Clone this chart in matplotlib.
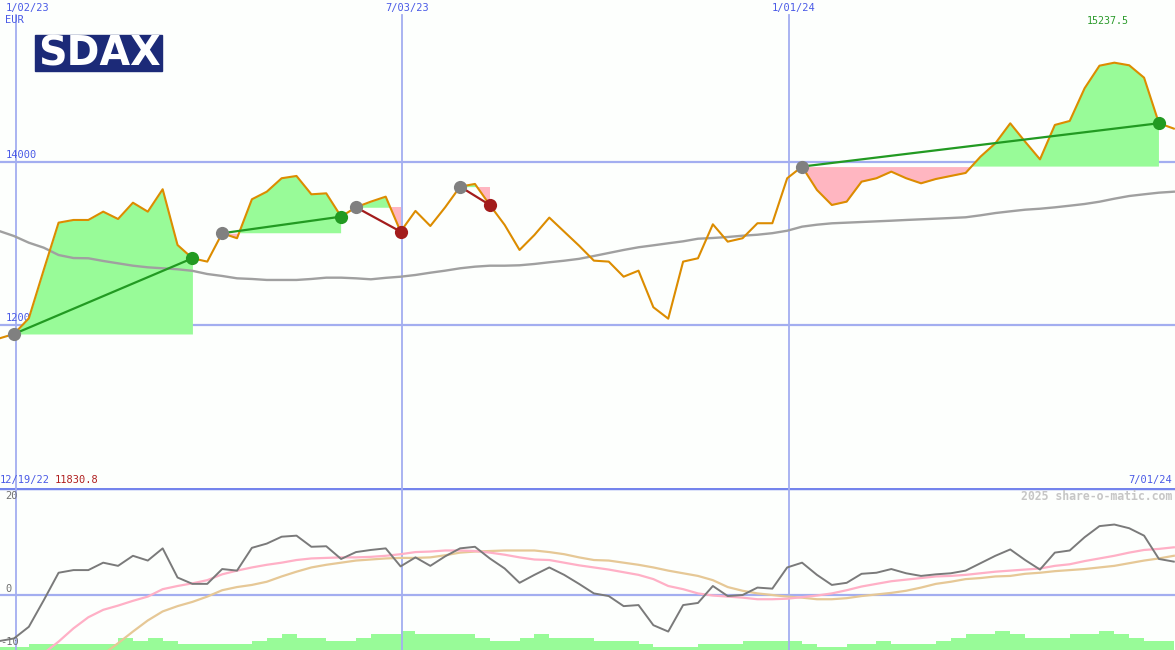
import matplotlib
matplotlib.use("Agg")
import matplotlib.pyplot as plt
from matplotlib.patches import Rectangle
import numpy as np

W, H = 1175, 650

# weekly closes, index -1 .. 78 (week 0 = first week of 2023)
weeks = list(range(-1, 79))
price = [11831, 11886, 12079, 12672, 13252, 13285, 13285, 13387, 13297, 13497,
         13387, 13662, 12978, 12815, 12774, 13122, 13061, 13539, 13632, 13797,
         13825, 13600, 13612, 13326, 13441, 13510, 13571, 13142, 13396, 13211,
         13441, 13694, 13727, 13469, 13224, 12917, 13101, 13314, 13142, 12970,
         12786, 12774, 12589, 12663, 12214, 12074, 12774, 12815, 13232, 13019,
         13061, 13245, 13245, 13797, 13940, 13653, 13469, 13510, 13755, 13797,
         13878, 13797, 13735, 13788, 13825, 13862, 14062, 14226, 14471, 14246,
         14029, 14451, 14500, 14901, 15178, 15215, 15183, 15031, 14472, 14406]
ma_long = [13150, 13088, 13006, 12945, 12855, 12818, 12815, 12782, 12753, 12724,
           12704, 12692, 12680, 12661, 12622, 12598, 12569, 12561, 12549, 12549,
           12549, 12561, 12577, 12577, 12569, 12557, 12575, 12589, 12610, 12638,
           12663, 12692, 12712, 12724, 12724, 12729, 12745, 12766, 12785, 12808,
           12843, 12880, 12917, 12950, 12974, 12999, 13023, 13055, 13064, 13076,
           13092, 13104, 13123, 13153, 13203, 13227, 13244, 13252, 13260, 13268,
           13276, 13285, 13293, 13301, 13309, 13318, 13342, 13370, 13391, 13411,
           13423, 13440, 13460, 13481, 13509, 13546, 13579, 13600, 13620, 13632]

# lower panel: momentum and its two averages
momentum = [-8.7, -8.2, -6.0, -1.0, 4.2, 4.7, 4.7, 6.1, 5.5, 7.4,
            6.5, 8.8, 3.3, 2.1, 2.1, 4.9, 4.6, 8.9, 9.7, 11.0,
            11.2, 9.1, 9.2, 6.8, 8.1, 8.5, 8.8, 5.4, 7.1, 5.5,
            7.3, 8.8, 9.1, 6.9, 5.0, 2.3, 3.8, 5.2, 3.8, 2.1,
            0.3, -0.2, -2.1, -1.9, -5.7, -6.9, -1.9, -1.5, 1.7, -0.2,
            0.0, 1.4, 1.2, 5.2, 6.1, 3.8, 1.9, 2.3, 4.0, 4.2,
            4.9, 4.1, 3.6, 3.9, 4.1, 4.6, 6.0, 7.4, 8.6, 6.6,
            4.8, 8.0, 8.4, 10.9, 13.0, 13.3, 12.6, 11.2, 6.8, 6.3]
mom_fast = [None, None, None, -11.0, -8.8, -6.3, -4.2, -2.8, -2.0, -1.1,
            -0.3, 1.1, 1.7, 2.2, 2.8, 3.9, 4.6, 5.2, 5.7, 6.1,
            6.6, 6.9, 7.0, 7.1, 7.1, 7.2, 7.4, 7.7, 8.1, 8.2,
            8.4, 8.4, 8.3, 8.0, 7.6, 7.1, 6.7, 6.6, 6.1, 5.6,
            5.2, 4.8, 4.3, 3.8, 3.0, 1.7, 1.1, 0.3, -0.1, -0.3,
            -0.5, -0.8, -0.8, -0.7, -0.4, -0.1, 0.3, 0.9, 1.6, 2.1,
            2.6, 2.9, 3.2, 3.5, 3.6, 3.8, 4.1, 4.4, 4.6, 4.8,
            5.0, 5.5, 5.8, 6.4, 6.9, 7.4, 8.0, 8.5, 8.7, 9.0]
mom_slow = [None, None, None, None, None, None, None, -11.2, -9.1, -6.9,
            -4.8, -3.1, -2.1, -1.3, -0.3, 0.9, 1.5, 1.9, 2.5, 3.5,
            4.4, 5.2, 5.7, 6.1, 6.5, 6.7, 6.9, 7.0, 7.0, 7.1,
            7.5, 8.0, 8.2, 8.3, 8.4, 8.4, 8.4, 8.1, 7.7, 7.1,
            6.6, 6.5, 6.1, 5.7, 5.2, 4.6, 4.1, 3.6, 2.8, 1.5,
            0.8, 0.3, 0.0, -0.3, -0.5, -0.8, -0.8, -0.6, -0.2, 0.1,
            0.4, 0.8, 1.4, 2.1, 2.5, 3.0, 3.2, 3.5, 3.6, 4.0,
            4.2, 4.5, 4.7, 4.9, 5.2, 5.5, 6.0, 6.5, 6.9, 7.4]
volume = [1, 1, 2, 2, 2, 2, 2, 2, 4, 3, 4, 3, 2, 2, 2, 2, 2,
          3, 4, 5, 4, 4, 3, 3, 4, 5, 5, 6, 5, 5, 5, 5, 4, 3, 3, 4, 5,
          4, 4, 4, 3, 3, 3, 2, 1, 1, 1, 2, 2, 2, 3, 3, 3, 3, 2, 1, 1,
          2, 2, 3, 2, 2, 2, 3, 4, 5, 5, 6, 5, 4, 4, 4, 5, 5, 6, 5, 4, 3, 3]

# trend segments: start week, end week, direction
trend_start = [0, 14, 23, 30, 53]
trend_end = [12, 22, 26, 32, 77]
trend_up = [True, True, False, False, True]

date_pos = [0.13, 26.1, 52.12]
date_labels = ["1/02/23", "7/03/23", "1/01/24"]

BG = "#fdfffd"
GRID = "#a3aef0"
BLUE_TXT = "#4a5ae6"
ORANGE = "#dc8c00"
GREEN_FILL = "#98fb98"
PINK_FILL = "#ffb6c1"
GREEN_LINE = "#229a22"
RED_LINE = "#a31c1c"

plt.rcParams["font.family"] = ["DejaVu Sans Mono"]
fig = plt.figure(figsize=(W / 100, H / 100), dpi=100, facecolor=BG)

top_h = 487.7
ax1 = fig.add_axes([0, 1 - top_h / H, 1, top_h / H])
ax2 = fig.add_axes([0, 0, 1, (H - top_h) / H])
ax3 = ax2.twinx()
ax3.set_zorder(ax2.get_zorder() - 1)
ax2.patch.set_visible(False)
ax3.patch.set_facecolor(BG)

xlim = (-0.94, 78.08)
for ax in (ax1, ax2, ax3):
    ax.set_xlim(*xlim)
    ax.set_axis_off()
ax1.set_facecolor(BG)
ax1.set_ylim(10000, 15984)
ax2.set_ylim(-10.38, 20.25)
ax3.set_ylim(0, 52)

x = np.array(weeks)
p = np.array(price, dtype=float)

# ── price panel ──
for lvl in (14000, 12000):
    ax1.axhline(lvl, color=GRID, lw=1.6, zorder=1)
for d in date_pos:
    ax1.axvline(d, ymax=(top_h - 15) / top_h, color=GRID, lw=1.3, zorder=1)
for lvl in (14000, 12000):
    ax1.annotate(str(lvl), xy=(0, lvl), xycoords=("axes fraction", "data"),
                 xytext=(4.3, 4.8), textcoords="offset points", va="center",
                 ha="left", color=BLUE_TXT, fontsize=7.5, zorder=1.5)

for s, e, up in zip(trend_start, trend_end, trend_up):
    i0, i1 = s + 1, e + 1
    xs, ps = x[i0:i1 + 1], p[i0:i1 + 1]
    base = p[i0]
    ax1.fill_between(xs, base, ps, where=ps >= base, interpolate=True,
                     color=GREEN_FILL, lw=0, zorder=2)
    ax1.fill_between(xs, base, ps, where=ps < base, interpolate=True,
                     color=PINK_FILL, lw=0, zorder=2)

ax1.plot(x, ma_long, color="#a0a0a0", lw=1.7, zorder=3)
ax1.plot(x, p, color=ORANGE, lw=1.5, zorder=4)

for s, e, up in zip(trend_start, trend_end, trend_up):
    i0, i1 = s + 1, e + 1
    col = GREEN_LINE if up else RED_LINE
    ax1.plot([x[i0], x[i1]], [p[i0], p[i1]], color=col, lw=1.6, zorder=5)
    ax1.plot(x[i0], p[i0], "o", color="#808080", ms=9.5, mew=0, zorder=6)
    ax1.plot(x[i1], p[i1], "o", color=col, ms=9.5, mew=0, zorder=6)

# ── lower panel ──
ax3.bar(x[:len(volume)], volume, width=1.0, align="edge", color=GREEN_FILL,
        lw=0)
ax2.axhline(0, color=GRID, lw=1.6, zorder=1)
ax2.axhline(20.25, color="#7484ec", lw=2.5, zorder=1)
for d in date_pos:
    ax2.axvline(d, color=GRID, lw=1.3, zorder=1)

def series(vals):
    return np.array([np.nan if v is None else v for v in vals], dtype=float)

ax2.plot(x, series(mom_slow), color="#e6c896", lw=1.6, zorder=2)
ax2.plot(x, series(mom_fast), color="#ffb0c6", lw=1.6, zorder=3)
ax2.plot(x, series(momentum), color="#7a7a7a", lw=1.4, zorder=4)


def ftext(px, py, s, **kw):
    kw.setdefault("fontsize", 7.5)
    kw.setdefault("va", "center")
    fig.text(px / W, 1 - py / H, s, **kw)


for d, lab, px in zip(date_pos, date_labels, [6, 385, 772]):
    ftext(px, 8, lab, color=BLUE_TXT)
ftext(5, 20, "EUR", color=BLUE_TXT)
ftext(1087, 21, "15237.5", color="#2a9a2a", fontsize=7.2)
ftext(0, 480, "12/19/22", color=BLUE_TXT)
ftext(55, 480, "11830.8", color="#b02020")
ftext(1172, 480, "7/01/24", color=BLUE_TXT, ha="right")
ftext(1172, 496, "2025 share-o-matic.com", color="#c6c6c6", ha="right",
      fontsize=8.3, fontweight="bold")
ftext(5, 496, "20", color="#707070")
ftext(5, 589, "0", color="#707070")
ftext(0, 642, "-10", color="#707070")

# SDAX logo
fig.patches.append(Rectangle((35 / W, 1 - 71 / H), 127 / W, 36 / H,
                             transform=fig.transFigure, color="#1c2a78",
                             zorder=10))
ftext(99, 54, "SDAX", color="white", fontsize=28.5, fontweight="bold",
      ha="center", family="DejaVu Sans", zorder=11)

fig.savefig("out.png", dpi=100, facecolor=BG)
